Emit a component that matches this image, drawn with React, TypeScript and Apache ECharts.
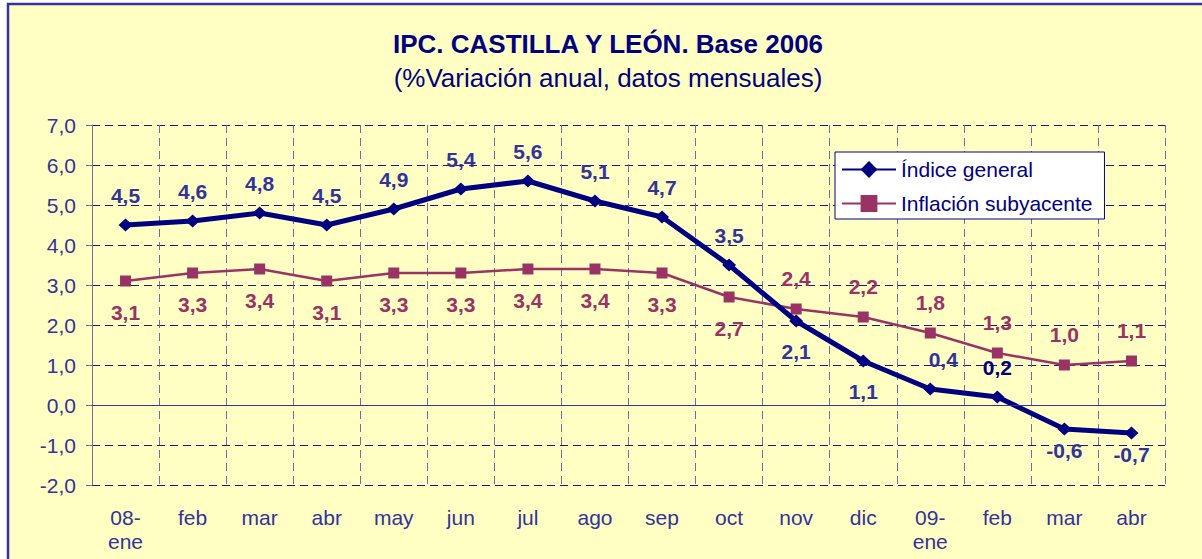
import React, { useEffect, useRef } from "react";
import * as echarts from "echarts";

const CATEGORIES = ["08-\nene", "feb", "mar", "abr", "may", "jun", "jul", "ago", "sep", "oct", "nov", "dic", "09-\nene", "feb", "mar", "abr"];
const INDICE_GENERAL = [4.5, 4.6, 4.8, 4.5, 4.9, 5.4, 5.6, 5.1, 4.7, 3.5, 2.1, 1.1, 0.4, 0.2, -0.6, -0.7];
const INFLACION_SUBYACENTE = [3.1, 3.3, 3.4, 3.1, 3.3, 3.3, 3.4, 3.4, 3.3, 2.7, 2.4, 2.2, 1.8, 1.3, 1.0, 1.1];
const SERIES_NAMES = ["Índice general", "Inflación subyacente"];
const TITLE = "IPC. CASTILLA Y LEÓN. Base 2006";
const SUBTITLE = "(%Variación anual, datos mensuales)";

// label placement (layout only)
const GENERAL_BELOW = [10, 11, 14, 15];
const GENERAL_CLOSE = [14, 15];
const GENERAL_SHIFTED = [12];
const GENERAL_DARK = [13];
const SUBY_ABOVE = [10, 11, 12, 13, 14, 15];

const FONT = "'Liberation Sans', Arial, sans-serif";
const fmt = (v: number) => v.toFixed(1).replace(".", ",");

export default function App() {
  const ref = useRef<HTMLDivElement>(null);
  useEffect(() => {
    if (!ref.current) return;
    const chart = echarts.init(ref.current, null, { renderer: "svg" });
    const option = {
      animation: false,
      backgroundColor: "#ffffff",
      textStyle: { fontFamily: FONT },
      graphic: [
        {
          type: "rect",
          z: -10,
          shape: { x: 8, y: 4, width: 1400, height: 800 },
          style: { fill: "#FFFFC4", stroke: "#3333A0", lineWidth: 2.5 },
        },
        {
          type: "text",
          x: 608,
          y: 44,
          style: {
            text: TITLE,
            font: `bold 26px ${FONT}`,
            fill: "#000080",
            textAlign: "center",
            textVerticalAlign: "middle",
          },
        },
        {
          type: "text",
          x: 608,
          y: 78,
          style: {
            text: SUBTITLE,
            font: `26px ${FONT}`,
            fill: "#000080",
            textAlign: "center",
            textVerticalAlign: "middle",
          },
        },
      ],
      legend: {
        left: 835,
        top: 152,
        orient: "vertical",
        backgroundColor: "#ffffff",
        borderColor: "#000080",
        borderWidth: 1,
        borderRadius: 0,
        padding: [7, 12, 5, 6],
        itemWidth: 54,
        itemHeight: 21,
        itemGap: 13,
        textStyle: { fontSize: 21, color: "#000080", fontFamily: FONT },
        data: SERIES_NAMES,
      },
      grid: { left: 92, right: 37, top: 125, bottom: 74 },
      xAxis: {
        type: "category",
        data: CATEGORIES,
        boundaryGap: true,
        axisLine: { show: false },
        axisTick: { show: false },
        axisLabel: { color: "#333399", fontSize: 21, lineHeight: 24, margin: 20, interval: 0, fontFamily: FONT },
        splitLine: { show: true, interval: 0, lineStyle: { color: "#6E6EA0", type: [8, 5], width: 1 } },
      },
      yAxis: {
        type: "value",
        min: -2,
        max: 7,
        interval: 1,
        axisLine: { show: true, lineStyle: { color: "#6E6EA0", width: 1 } },
        axisTick: { show: true, length: 6, lineStyle: { color: "#6E6EA0" } },
        axisLabel: { color: "#333399", fontSize: 21, margin: 16, formatter: (v: number) => fmt(v), fontFamily: FONT },
        splitLine: { show: true, lineStyle: { color: "#1A1A70", type: [8, 5], width: 1 } },
      },
      series: [
        {
          name: SERIES_NAMES[0],
          type: "line",
          z: 4,
          data: INDICE_GENERAL.map((v, i) => ({
            value: v,
            label: {
              position: GENERAL_BELOW.includes(i) ? "bottom" : "top",
              color: GENERAL_DARK.includes(i) ? "#000080" : "#333399",
              distance: GENERAL_CLOSE.includes(i) ? 4 : 13,
              offset: GENERAL_SHIFTED.includes(i) ? [13, 0] : [0, 0],
            },
          })),
          symbol: "diamond",
          symbolSize: [14, 13],
          lineStyle: { color: "#000080", width: 5 },
          itemStyle: { color: "#000080" },
          label: {
            show: true,
            fontSize: 21,
            fontWeight: "bold",
            distance: 13,
            fontFamily: FONT,
            formatter: (p: any) => fmt(p.value),
          },
          markLine: {
            silent: true,
            symbol: "none",
            label: { show: false },
            lineStyle: { type: "solid", color: "#333399", width: 1 },
            data: [{ yAxis: 0 }],
          },
        },
        {
          name: SERIES_NAMES[1],
          type: "line",
          z: 3,
          data: INFLACION_SUBYACENTE.map((v, i) => ({
            value: v,
            label: { position: SUBY_ABOVE.includes(i) ? "top" : "bottom" },
          })),
          symbol: "rect",
          symbolSize: 11,
          lineStyle: { color: "#993366", width: 2.5 },
          itemStyle: { color: "#993366" },
          label: {
            show: true,
            fontSize: 21,
            fontWeight: "bold",
            color: "#993366",
            distance: 15,
            fontFamily: FONT,
            formatter: (p: any) => fmt(p.value),
          },
        },
      ],
    };
    chart.setOption(option as any);
    return () => chart.dispose();
  }, []);
  return <div ref={ref} style={{ position: "fixed", left: 0, top: 0, width: 1202, height: 559 }} />;
}
